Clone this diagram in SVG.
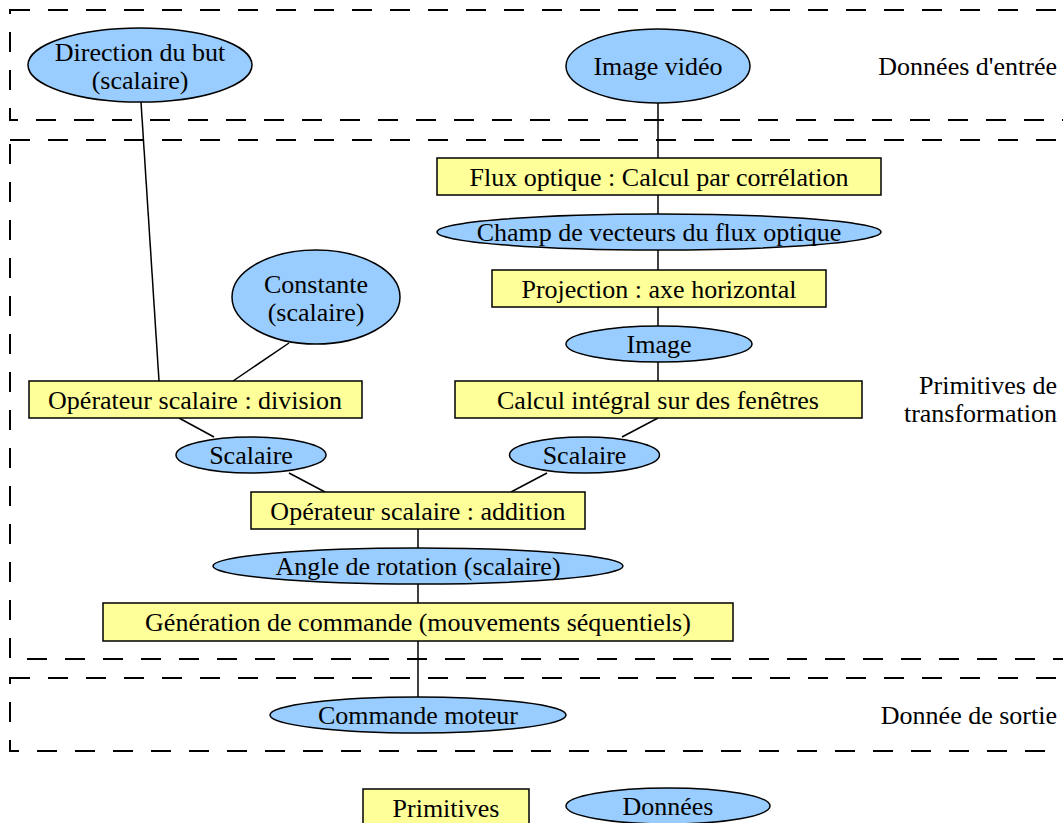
<svg xmlns="http://www.w3.org/2000/svg" width="1063" height="823" viewBox="0 0 1063 823">
<style>
text{font-family:"Liberation Serif","Times New Roman",serif;font-size:26px;fill:#000;text-anchor:middle}
.lbl{text-anchor:end}
.zone{fill:none;stroke:#000;stroke-width:2;stroke-dasharray:20 18}
.prim{fill:#ffff99;stroke:#000;stroke-width:1.5}
.data{fill:#99ccff;stroke:#000;stroke-width:1.5}
.conn line{stroke:#000;stroke-width:1.5}
</style>
<rect width="1063" height="823" fill="#fff"/>
<g id="zones">
<rect class="zone" x="10" y="10" width="1070" height="110"/>
<rect class="zone" x="10" y="140" width="1070" height="519"/>
<rect class="zone" x="10" y="678" width="1070" height="73"/>
<text class="lbl" x="1057" y="75">Données d'entrée</text>
<text class="lbl" x="1057" y="394">Primitives de</text>
<text class="lbl" x="1057" y="422">transformation</text>
<text class="lbl" x="1057" y="724">Donnée de sortie</text>
</g>
<g id="connectors" class="conn">
<line x1="141" y1="102" x2="159" y2="381"/>
<line x1="289" y1="343" x2="233" y2="381"/>
<line x1="658" y1="103" x2="658" y2="158"/>
<line x1="658" y1="195" x2="658" y2="214"/>
<line x1="658" y1="250" x2="658" y2="270"/>
<line x1="658" y1="307" x2="658" y2="326"/>
<line x1="658" y1="362" x2="658" y2="381"/>
<line x1="658" y1="418" x2="622" y2="437"/>
<line x1="179" y1="418" x2="214" y2="437"/>
<line x1="289" y1="473" x2="325" y2="492"/>
<line x1="547" y1="473" x2="511" y2="492"/>
<line x1="418" y1="529" x2="418" y2="548"/>
<line x1="418" y1="584" x2="418" y2="603"/>
<line x1="418" y1="641" x2="418" y2="697"/>
</g>
<g id="n-direction"><ellipse class="data" cx="140" cy="65" rx="112" ry="37"/><text x="140" y="61">Direction du but</text><text x="140" y="89">(scalaire)</text></g>
<g id="n-imagevideo"><ellipse class="data" cx="658" cy="66" rx="92" ry="37"/><text x="658" y="75">Image vidéo</text></g>
<g id="n-flux"><rect class="prim" x="437" y="158" width="444" height="37"/><text x="659" y="186">Flux optique : Calcul par corrélation</text></g>
<g id="n-champ"><ellipse class="data" cx="659" cy="232" rx="222" ry="18"/><text x="659" y="241">Champ de vecteurs du flux optique</text></g>
<g id="n-projection"><rect class="prim" x="492" y="270" width="334" height="37"/><text x="659" y="298">Projection : axe horizontal</text></g>
<g id="n-image"><ellipse class="data" cx="659" cy="344" rx="93" ry="18"/><text x="659" y="353">Image</text></g>
<g id="n-calcul"><rect class="prim" x="455" y="381" width="407" height="37"/><text x="658" y="409">Calcul intégral sur des fenêtres</text></g>
<g id="n-constante"><ellipse class="data" cx="316" cy="297" rx="84" ry="47"/><text x="316" y="293">Constante</text><text x="316" y="321">(scalaire)</text></g>
<g id="n-division"><rect class="prim" x="29" y="381" width="333" height="37"/><text x="195" y="409">Opérateur scalaire : division</text></g>
<g id="n-scal1"><ellipse class="data" cx="251" cy="455" rx="75" ry="18"/><text x="251" y="464">Scalaire</text></g>
<g id="n-scal2"><ellipse class="data" cx="584.5" cy="455" rx="75" ry="18"/><text x="584.5" y="464">Scalaire</text></g>
<g id="n-addition"><rect class="prim" x="251" y="492" width="334" height="37"/><text x="418" y="520">Opérateur scalaire : addition</text></g>
<g id="n-angle"><ellipse class="data" cx="418" cy="566" rx="205" ry="18"/><text x="418" y="575">Angle de rotation (scalaire)</text></g>
<g id="n-generation"><rect class="prim" x="103" y="603" width="630" height="38"/><text x="418" y="631">Génération de commande (mouvements séquentiels)</text></g>
<g id="n-moteur"><ellipse class="data" cx="418" cy="715" rx="148" ry="18"/><text x="418" y="724">Commande moteur</text></g>
<g id="legend-prim"><rect class="prim" x="363" y="789" width="166" height="40"/><text x="446" y="817">Primitives</text></g>
<g id="legend-data"><ellipse class="data" cx="668" cy="806" rx="102" ry="18"/><text x="668" y="815">Données</text></g>
</svg>
